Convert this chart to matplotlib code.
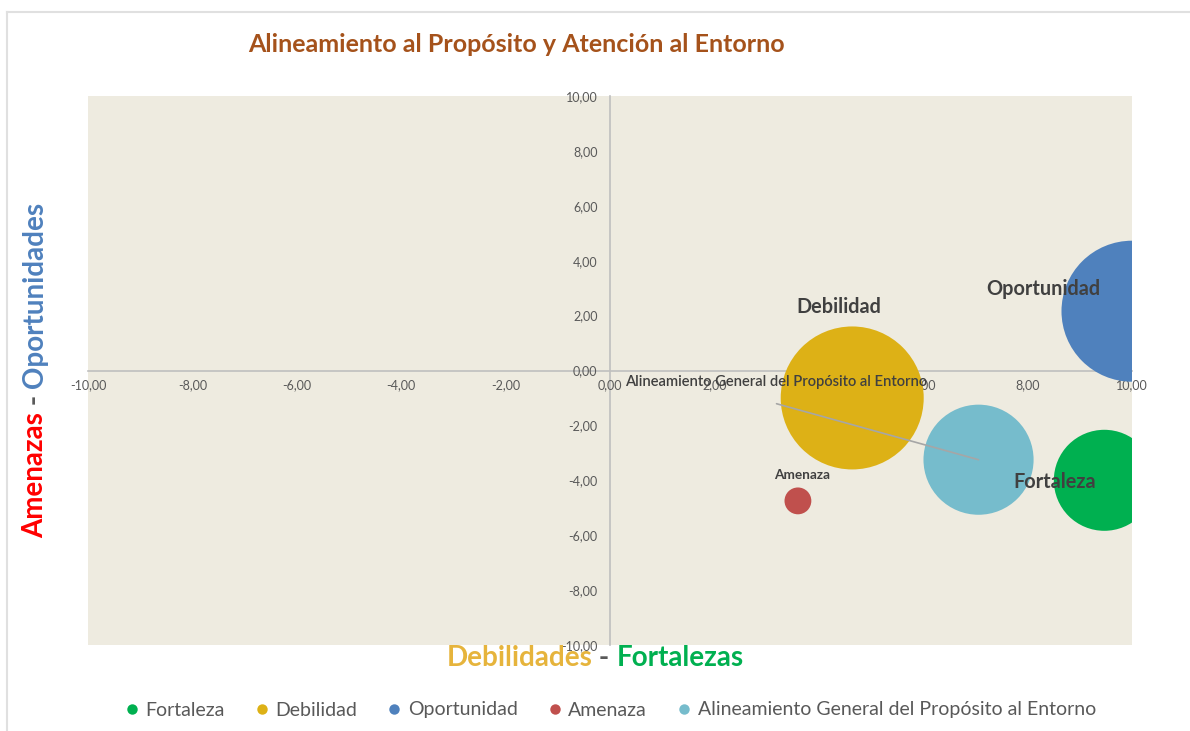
import matplotlib.pyplot as plt
from matplotlib.lines import Line2D
from matplotlib.ticker import FuncFormatter, MultipleLocator

# datos del grafico
series = ['Fortaleza', 'Debilidad', 'Oportunidad', 'Amenaza',
          'Alineamiento General del Propósito al Entorno']
valor_x = [9.47, 4.64, 10.0, 3.60, 7.06]
valor_y = [-4.00, -1.00, 2.16, -4.75, -3.25]
tamano = [2.55, 5.11, 4.97, 0.18, 3.03]
colores = ['#00B050', '#DDB116', '#4F81BD', '#C0504D', '#76BCCC']

plt.rcParams['font.family'] = ['Lato', 'DejaVu Sans']

W, H = 1190, 731


def fx(px):
    return px / W


def fy(py):
    return 1 - py / H


fig = plt.figure(figsize=(11.9, 7.31), dpi=100)
ax = fig.add_axes([fx(88), fy(645), (1132 - 88) / W, (645 - 96) / H])
ax.set_facecolor('#EEEBE0')

escala = 10600 / max(tamano)
for i in range(len(series)):
    ax.scatter(valor_x[i], valor_y[i], s=tamano[i] * escala, color=colores[i],
               edgecolors='none', zorder=3)

ax.set_xlim(-10, 10)
ax.set_ylim(-10, 10)
for lado in ['top', 'right']:
    ax.spines[lado].set_visible(False)
ax.spines['left'].set_position(('data', 0))
ax.spines['bottom'].set_position(('data', 0))
for lado in ['left', 'bottom']:
    ax.spines[lado].set_color('#BFBFBF')
    ax.spines[lado].set_linewidth(1.2)
    ax.spines[lado].set_zorder(1)
fmt = FuncFormatter(lambda v, p: f'{v:.2f}'.replace('.', ','))
ax.xaxis.set_major_locator(MultipleLocator(2))
ax.yaxis.set_major_locator(MultipleLocator(2))
ax.xaxis.set_major_formatter(fmt)
ax.yaxis.set_major_formatter(fmt)
ax.tick_params(axis='x', length=0, pad=6, labelsize=9, labelcolor='#595959')
ax.tick_params(axis='y', length=0, pad=9, labelsize=9, labelcolor='#595959')

# etiquetas de datos
etiq = {
    'Debilidad': (-13, 91, 14.3, 'bold'),
    'Oportunidad': (-89, 22, 14.3, 'bold'),
    'Fortaleza': (-50, -2, 14.3, 'bold'),
    'Amenaza': (4, 26, 9.8, 'bold'),
}
for i, nombre in enumerate(series):
    if nombre in etiq:
        dx, dy, sz, wt = etiq[nombre]
        ax.annotate(nombre, (valor_x[i], valor_y[i]), xytext=(dx * 0.72, dy * 0.72),
                    textcoords='offset points', ha='center', va='center',
                    fontsize=sz, fontweight=wt, color='#404040', zorder=5)

# etiqueta con linea guia para la serie de alineamiento
ax.annotate('', (valor_x[4], valor_y[4]), xytext=(-202 * 0.72, 56 * 0.72),
            textcoords='offset points',
            arrowprops=dict(arrowstyle='-', color='#A6A6A6', lw=1.2,
                            shrinkA=0, shrinkB=0), zorder=4)
ax.annotate(series[4], (valor_x[4], valor_y[4]), xytext=(-202 * 0.72, 78 * 0.72),
            textcoords='offset points', ha='center', va='center',
            fontsize=10.6, fontweight='semibold', color='#404040', zorder=5)

# titulo
fig.text(fx(516), fy(45), 'Alineamiento al Propósito y Atención al Entorno',
         ha='center', va='center', fontsize=18, fontweight='bold', color='#A5521B')


def titulo_color(partes, cols, cx, cy, vertical):
    # pone varios trozos de texto seguidos, cada uno con su color
    textos = []
    for p, c in zip(partes, cols):
        t = fig.text(0, 0, p, rotation=90 if vertical else 0,
                     ha='center' if vertical else 'left',
                     va='bottom' if vertical else 'center',
                     fontsize=20, fontweight='bold', color=c)
        textos.append(t)
    fig.canvas.draw()
    r = fig.canvas.get_renderer()
    largos = []
    for t in textos:
        bb = t.get_window_extent(r)
        largos.append(bb.height if vertical else bb.width)
    total = sum(largos)
    if vertical:
        pos = (H - cy) - total / 2
        for t, l in zip(textos, largos):
            t.set_position((cx / W, pos / H))
            pos += l
    else:
        pos = cx - total / 2
        for t, l in zip(textos, largos):
            t.set_position((pos / W, fy(cy)))
            pos += l


titulo_color(['Amenazas', ' - ', 'Oportunidades'], ['#FF0000', '#595959', '#4F81BD'],
             35, 370, True)
titulo_color(['Debilidades', ' - ', 'Fortalezas'], ['#E6B43C', '#595959', '#00B050'],
             595, 658, False)

# leyenda
handles = [Line2D([], [], marker='o', linestyle='none', markersize=7.5,
                  markerfacecolor=c, markeredgecolor='none') for c in colores]
fig.legend(handles, series, loc='center', bbox_to_anchor=(fx(608), fy(710)),
           ncol=5, frameon=False, fontsize=14, labelcolor='#595959',
           handletextpad=0.1, columnspacing=1.3, handlelength=1.2)

# borde del area del grafico
fig.add_artist(Line2D([fx(7), 1], [fy(12), fy(12)], transform=fig.transFigure,
                      color='#E0E0E0', lw=1.5))
fig.add_artist(Line2D([fx(7), fx(7)], [fy(12), 0], transform=fig.transFigure,
                      color='#E0E0E0', lw=1.5))

fig.savefig('out.png', dpi=100)
